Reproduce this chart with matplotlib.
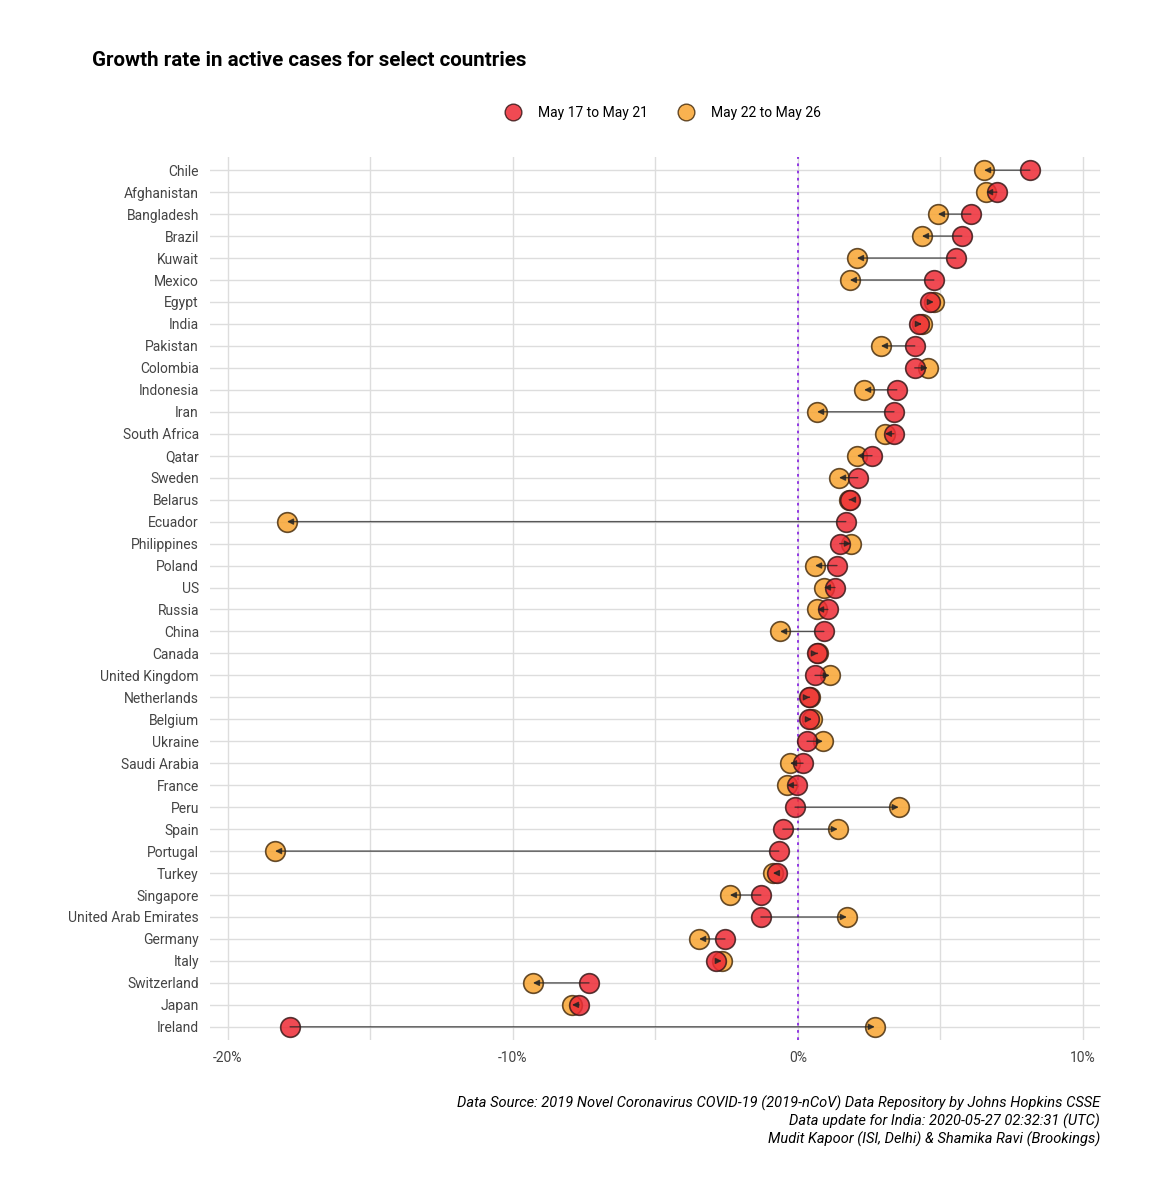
import numpy as np
import matplotlib.pyplot as plt
from matplotlib.lines import Line2D

plt.rcParams['font.family'] = ['Roboto', 'DejaVu Sans']

countries = ['Chile', 'Afghanistan', 'Bangladesh', 'Brazil', 'Kuwait', 'Mexico', 'Egypt',
             'India', 'Pakistan', 'Colombia', 'Indonesia', 'Iran', 'South Africa', 'Qatar',
             'Sweden', 'Belarus', 'Ecuador', 'Philippines', 'Poland', 'US', 'Russia', 'China',
             'Canada', 'United Kingdom', 'Netherlands', 'Belgium', 'Ukraine', 'Saudi Arabia',
             'France', 'Peru', 'Spain', 'Portugal', 'Turkey', 'Singapore',
             'United Arab Emirates', 'Germany', 'Italy', 'Switzerland', 'Japan', 'Ireland']

# growth rate (%) May 17 to May 21
first = [8.14, 6.98, 6.07, 5.75, 5.54, 4.77, 4.63, 4.25, 4.10, 4.10, 3.47, 3.37, 3.37, 2.60,
         2.10, 1.82, 1.68, 1.47, 1.37, 1.30, 1.05, 0.91, 0.67, 0.60, 0.39, 0.39, 0.32, 0.18,
         -0.04, -0.10, -0.53, -0.67, -0.74, -1.30, -1.30, -2.56, -2.88, -7.33, -7.68, -17.82]
# growth rate (%) May 22 to May 26
second = [6.53, 6.60, 4.91, 4.35, 2.07, 1.82, 4.77, 4.35, 2.91, 4.56, 2.32, 0.67, 3.05, 2.07,
          1.44, 1.79, -17.93, 1.86, 0.60, 0.91, 0.67, -0.63, 0.70, 1.12, 0.42, 0.49, 0.88, -0.28,
          -0.39, 3.54, 1.40, -18.35, -0.88, -2.39, 1.72, -3.47, -2.67, -9.30, -7.93, 2.70]

red = '#EE2A35'
orange = '#F8A531'

fig = plt.figure(figsize=(11.51, 12), dpi=100)
ax = fig.add_axes([210 / 1151, 1 - 1040 / 1200, 890 / 1151, 883 / 1200])

y = np.arange(len(countries))[::-1]

ax.scatter(second, y, s=200, color=orange, alpha=0.85, edgecolor='#4a3010', linewidth=1.2, zorder=3)
ax.scatter(first, y, s=200, color=red, alpha=0.85, edgecolor='#3a1a1a', linewidth=1.2, zorder=3.5)

for a, b, yy in zip(first, second, y):
    ax.annotate('', xy=(b, yy), xytext=(a, yy),
                arrowprops=dict(arrowstyle='-|>', color='#222222', lw=1.0, alpha=0.75,
                                mutation_scale=9, shrinkA=0, shrinkB=0),
                zorder=4)

ax.axvline(0, color='#8A2BE2', linestyle=(0, (1.5, 2.5)), lw=1.3, zorder=2)

ax.set_xlim(-20.63, 10.6)
ax.set_ylim(-0.6, len(countries) - 0.4)
ax.set_xticks([-20, -10, 0, 10])
ax.set_xticklabels(['-20%', '-10%', '0%', '10%'])
ax.set_xticks([-15, -5, 5], minor=True)
ax.set_yticks(y)
ax.set_yticklabels(countries)

ax.grid(True, which='major', color='#DDDDDD', lw=1.0, zorder=0)
ax.grid(True, which='minor', axis='x', color='#DDDDDD', lw=1.0, zorder=0)
for s in ax.spines.values():
    s.set_visible(False)
ax.tick_params(axis='both', which='both', length=0, labelsize=10, labelcolor='#444444')
ax.tick_params(axis='y', pad=8)
ax.tick_params(axis='x', pad=8)

fig.text(92 / 1151, 1 - 60 / 1200, 'Growth rate in active cases for select countries',
         fontsize=14.8, fontweight='bold', va='center', ha='left')

handles = [Line2D([], [], marker='o', linestyle='', markersize=12, markerfacecolor=red,
                  markeredgecolor='#3a1a1a', alpha=0.85),
           Line2D([], [], marker='o', linestyle='', markersize=12, markerfacecolor=orange,
                  markeredgecolor='#4a3010', alpha=0.85)]
fig.legend(handles, ['May 17 to May 21', 'May 22 to May 26'], loc='center',
           bbox_to_anchor=(660 / 1151, 1 - 113 / 1200), ncol=2, frameon=False,
           fontsize=10, handletextpad=0.8, columnspacing=1.8)

caption = ['Data Source: 2019 Novel Coronavirus COVID-19 (2019-nCoV) Data Repository by Johns Hopkins CSSE',
           'Data update for India: 2020-05-27 02:32:31 (UTC)',
           'Mudit Kapoor (ISI, Delhi) & Shamika Ravi (Brookings)']
for i, line in enumerate(caption):
    fig.text(1100 / 1151, 1 - (1103 + 18 * i) / 1200, line, fontsize=10.5, style='italic',
             ha='right', va='center')

fig.savefig('out.png', dpi=100)
